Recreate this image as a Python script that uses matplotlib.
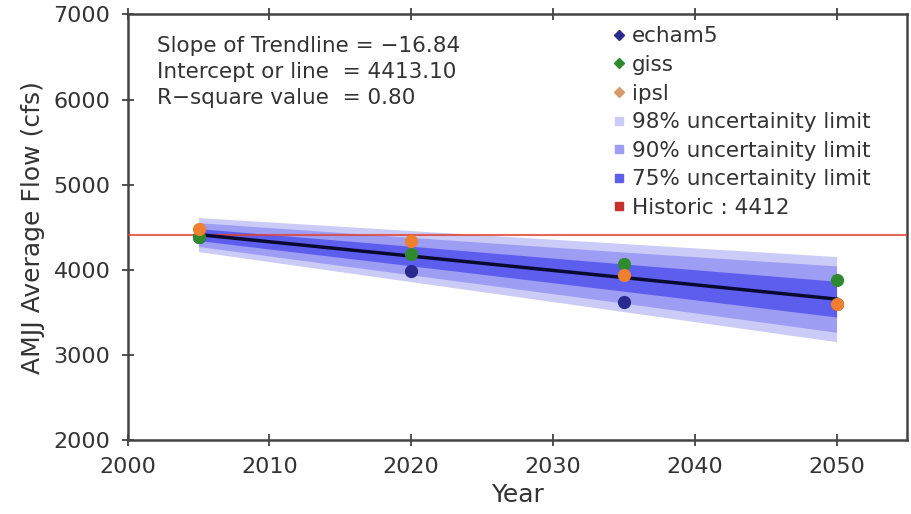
import matplotlib
matplotlib.use("Agg")
import matplotlib.pyplot as plt
from matplotlib.lines import Line2D

plt.rcParams['font.family'] = ['DejaVu Sans']

# model projections of AMJJ flow (cfs)
years = [2005, 2020, 2035, 2050]
echam5 = [4380, 3980, 3620, 3600]
giss = [4380, 4190, 4070, 3880]
ipsl = [4480, 4340, 3940, 3600]

# trendline stats
slope = -16.84
intercept = 4413.10
r_square = 0.80
historic = 4412

# uncertainty envelopes around the trend (lower, upper)
lo98 = [4213, 3860, 3508, 3155]
hi98 = [4613, 4460, 4308, 4155]
lo90 = [4273, 3940, 3608, 3265]
hi90 = [4553, 4380, 4208, 4045]
lo75 = [4343, 4046, 3748, 3445]
hi75 = [4483, 4276, 4068, 3865]

trend = [intercept + slope * (y - years[0]) for y in years]

c_echam = '#2a2a8c'
c_giss = '#2f8a2f'
c_ipsl = '#f07f2f'
c98 = '#cbcbf7'
c90 = '#9d9df4'
c75 = '#5e5eee'
c_hist = '#e0412f'
grey = '#333333'

fig = plt.figure(figsize=(9.12, 5.14), dpi=100)
ax = fig.add_axes([0.140, 0.144, 0.855, 0.828])

ax.fill_between(years, lo98, hi98, color=c98, lw=0, zorder=1)
ax.fill_between(years, lo90, hi90, color=c90, lw=0, zorder=2)
ax.fill_between(years, lo75, hi75, color=c75, lw=0, zorder=3)
ax.axhline(historic, color=c_hist, lw=1.5, alpha=0.8, zorder=4)
ax.plot(years, trend, color='#0a0a30', lw=2.5, zorder=5)

ax.plot(years, echam5, 'o', color=c_echam, ms=8.5, zorder=6)
ax.plot(years, giss, 'o', color=c_giss, ms=8.5, zorder=7)
ax.plot(years, ipsl, 'o', color=c_ipsl, ms=8.5, zorder=8)

ax.set_xlim(2000, 2055)
ax.set_ylim(2000, 7000)
ax.set_xticks(range(2000, 2051, 10))
ax.set_yticks(range(2000, 7001, 1000))
ax.tick_params(direction='inout', length=9, width=1.2, labelsize=16,
               colors=grey, top=True, right=False)
ax.tick_params(axis='x', pad=8)
ax.tick_params(axis='y', pad=8)
for s in ax.spines.values():
    s.set_color('#444444')
    s.set_linewidth(1.8)

ax.set_xlabel('Year', fontsize=18, color=grey, labelpad=4)
ax.set_ylabel('AMJJ Average Flow (cfs)', fontsize=18, color=grey, labelpad=6)

stats = ('Slope of Trendline = \u221216.84\n'
         'Intercept or line  = 4413.10\n'
         'R\u2212square value  = 0.80')
ax.text(0.037, 0.95, stats, transform=ax.transAxes, fontsize=15.5,
        color=grey, va='top', ha='left', linespacing=1.4)

handles = [
    Line2D([], [], marker='D', ls='none', color=c_echam, ms=5.5),
    Line2D([], [], marker='D', ls='none', color=c_giss, ms=5.5),
    Line2D([], [], marker='D', ls='none', color='#d99a6a', ms=5.5),
    Line2D([], [], marker='s', ls='none', color=c98, ms=6),
    Line2D([], [], marker='s', ls='none', color=c90, ms=6),
    Line2D([], [], marker='s', ls='none', color=c75, ms=6),
    Line2D([], [], marker='s', ls='none', color='#c83030', ms=6),
]
labels = ['echam5', 'giss', 'ipsl', '98% uncertainity limit',
          '90% uncertainity limit', '75% uncertainity limit',
          'Historic : %d' % historic]
leg = ax.legend(handles, labels, loc='upper left', bbox_to_anchor=(0.622, 0.972),
                frameon=False, fontsize=15.5, handlelength=0.6, handletextpad=0.3,
                labelspacing=0.4, borderaxespad=0, borderpad=0)
for t in leg.get_texts():
    t.set_color(grey)

fig.savefig('out.png', dpi=100)
